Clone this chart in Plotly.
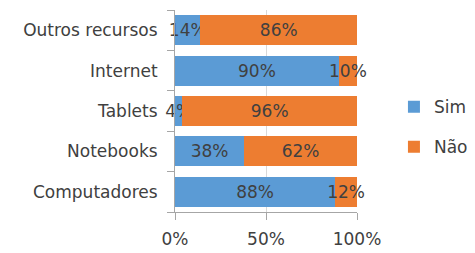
import plotly.graph_objects as go

categories = ["Computadores", "Notebooks", "Tablets", "Internet", "Outros recursos"]
sim = [88, 38, 4, 90, 14]
nao = [12, 62, 96, 10, 86]
x_tick_vals = [0, 50, 100]
x_tick_labels = ["0%", "50%", "100%"]

FONT = "DejaVu Sans"
FS = 17
TXT = "#404040"

fig = go.Figure()
fig.add_trace(go.Bar(
    y=categories, x=sim, name="Sim", orientation="h",
    marker=dict(color="#5B9BD5", line=dict(width=0)),
    text=[f"{v}%" for v in sim], textposition="inside", insidetextanchor="middle",
    textangle=0, constraintext="none", cliponaxis=False,
    textfont=dict(family=FONT, size=FS, color=TXT),
    legendgroup="a",
))
fig.add_trace(go.Bar(
    y=categories, x=nao, name="Não", orientation="h",
    marker=dict(color="#ED7D31", line=dict(width=0)),
    text=[f"{v}%" for v in nao], textposition="inside", insidetextanchor="middle",
    textangle=0, constraintext="none", cliponaxis=False,
    textfont=dict(family=FONT, size=FS, color=TXT),
    legendgroup="b",
))

# page body has an 8px margin, so the figure is sized to end at the window edge
fig.update_layout(
    width=467, height=245,
    margin=dict(l=167, r=118, t=2, b=41, autoexpand=False),
    barmode="stack", bargap=0.26,
    plot_bgcolor="white", paper_bgcolor="white",
    font=dict(family=FONT, size=FS, color=TXT),
    showlegend=True,
    legend=dict(x=1.203, xanchor="left", y=0.42, yanchor="middle",
                traceorder="grouped", tracegroupgap=15,
                font=dict(family=FONT, size=FS, color=TXT),
                itemwidth=30, bgcolor="rgba(0,0,0,0)"),
)
fig.update_xaxes(
    range=[0, 100], tickvals=x_tick_vals, ticktext=x_tick_labels,
    showgrid=True, gridcolor="#d9d9d9", gridwidth=1,
    showline=True, linecolor="#a6a6a6", linewidth=1,
    ticks="outside", ticklen=7, tickcolor="#a6a6a6",
    zeroline=False, fixedrange=True,
    ticklabelstandoff=5,
)
fig.update_yaxes(
    type="category", categoryorder="array", categoryarray=categories,
    showgrid=False, showline=True, linecolor="#a6a6a6", linewidth=1,
    ticks="outside", ticklen=7, tickcolor="#a6a6a6", tickson="boundaries",
    zeroline=False, fixedrange=True,
    ticklabelstandoff=13,
)
fig.write_html("out.html")
